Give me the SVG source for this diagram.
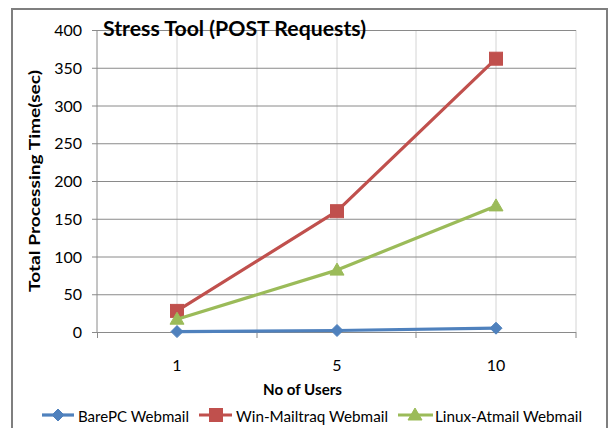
<svg xmlns="http://www.w3.org/2000/svg" width="611" height="428" viewBox="0 0 611 428">
  <style>
    .lbl { font-family: Lato, "Open Sans", "Liberation Sans", sans-serif; font-size: 16px; fill: #000; }
    .bold { font-weight: bold; }
    .hgrid { stroke: #8a8a8a; stroke-width: 1; }
    .vgrid { stroke: #d4d4d4; stroke-width: 1; }
    .axis { stroke: #8a8a8a; stroke-width: 1; fill: none; }
    .blue { stroke: #4f81bd; fill: #4f81bd; }
    .red { stroke: #c0504d; fill: #c0504d; }
    .green { stroke: #9bbb59; fill: #9bbb59; }
    .series { fill: none; stroke-width: 3.2; stroke-linejoin: round; stroke-linecap: round; }
  </style>
  <defs>
    <path id="diamond" d="M0,-6 L6,0 L0,6 L-6,0 Z"/>
    <rect id="square" x="-6.5" y="-6.5" width="13" height="13"/>
    <path id="triangle" d="M0,-7 L7,5 L-7,5 Z"/>
  </defs>

  <rect width="611" height="428" fill="#fff"/>
  <!-- chart frame -->
  <path d="M12,432 V9 H607 V432" fill="none" stroke="#7f7f7f" stroke-width="2"/>

  <!-- vertical gridlines -->
  <g id="vgrid" class="vgrid">
    <line x1="177" y1="30" x2="177" y2="332"/>
    <line x1="257" y1="30" x2="257" y2="332"/>
    <line x1="337" y1="30" x2="337" y2="332"/>
    <line x1="416" y1="30" x2="416" y2="332"/>
    <line x1="496" y1="30" x2="496" y2="332"/>
    <line x1="576" y1="30" x2="576" y2="332"/>
  </g>

  <!-- horizontal gridlines with tick marks -->
  <g id="hgrid" class="hgrid">
    <line x1="92" y1="30.5" x2="576" y2="30.5"/>
    <line x1="92" y1="68.25" x2="576" y2="68.25"/>
    <line x1="92" y1="106" x2="576" y2="106"/>
    <line x1="92" y1="143.75" x2="576" y2="143.75"/>
    <line x1="92" y1="181.5" x2="576" y2="181.5"/>
    <line x1="92" y1="219.25" x2="576" y2="219.25"/>
    <line x1="92" y1="257" x2="576" y2="257"/>
    <line x1="92" y1="294.75" x2="576" y2="294.75"/>
  </g>

  <!-- axes -->
  <g id="axes" class="axis">
    <line x1="97" y1="30" x2="97" y2="332"/>
    <line x1="92" y1="332.5" x2="576" y2="332.5"/>
    <line x1="97.5" y1="332" x2="97.5" y2="338"/>
    <line x1="257" y1="332" x2="257" y2="338"/>
    <line x1="416" y1="332" x2="416" y2="338"/>
    <line x1="576" y1="332" x2="576" y2="338"/>
  </g>

  <!-- title -->
  <text id="title" class="lbl bold" x="103" y="36" style="font-size:21px" textLength="263" lengthAdjust="spacingAndGlyphs">Stress Tool (POST Requests)</text>

  <!-- y axis values -->
  <g id="y-values" class="lbl" text-anchor="end">
    <text x="82" y="36">400</text>
    <text x="82" y="73.8">350</text>
    <text x="82" y="111.5">300</text>
    <text x="82" y="149.3">250</text>
    <text x="82" y="187">200</text>
    <text x="82" y="224.8">150</text>
    <text x="82" y="262.5">100</text>
    <text x="82" y="300.3">50</text>
    <text x="82" y="338">0</text>
  </g>

  <!-- x axis values -->
  <g id="x-values" class="lbl" text-anchor="middle">
    <text x="177" y="370.5">1</text>
    <text x="337" y="370.5">5</text>
    <text x="496" y="370.5">10</text>
  </g>

  <!-- axis titles -->
  <text id="x-title" class="lbl bold" x="302.5" y="394.5" text-anchor="middle" textLength="79" lengthAdjust="spacingAndGlyphs">No of Users</text>
  <text id="y-title" class="lbl bold" transform="translate(40,181) rotate(-90)" text-anchor="middle" textLength="222" lengthAdjust="spacingAndGlyphs">Total Processing Time(sec)</text>

  <!-- data series -->
  <g id="series">
    <g id="barepc">
      <polyline class="series blue" points="177,331.6 337,330.5 496,328.2"/>
      <g class="blue" stroke="none">
        <use href="#diamond" x="177" y="331.6"/>
        <use href="#diamond" x="337" y="330.5"/>
        <use href="#diamond" x="496" y="328.2"/>
      </g>
    </g>
    <g id="win-mailtraq">
      <polyline class="series red" points="177,310.9 337,211.2 496,58.7"/>
      <g class="red" stroke="none">
        <use href="#square" x="177" y="310.9"/>
        <use href="#square" x="337" y="211.2"/>
        <use href="#square" x="496" y="58.7"/>
      </g>
    </g>
    <g id="linux-atmail">
      <polyline class="series green" points="177,319.2 337,270.1 496,205.9"/>
      <g class="green" stroke="none">
        <use href="#triangle" x="177" y="319.2"/>
        <use href="#triangle" x="337" y="270.1"/>
        <use href="#triangle" x="496" y="205.9"/>
      </g>
    </g>
  </g>

  <!-- legend -->
  <g id="legend">
    <g id="legend-barepc">
      <line class="blue" x1="42" y1="415" x2="74" y2="415" stroke-width="3.2"/>
      <use href="#diamond" class="blue" stroke="none" x="58" y="415"/>
      <text class="lbl" x="78" y="422" textLength="111" lengthAdjust="spacingAndGlyphs">BarePC Webmail</text>
    </g>
    <g id="legend-win">
      <line class="red" x1="199" y1="415" x2="232" y2="415" stroke-width="3.2"/>
      <use href="#square" class="red" stroke="none" x="216" y="415"/>
      <text class="lbl" x="236" y="422" textLength="152" lengthAdjust="spacingAndGlyphs">Win-Mailtraq Webmail</text>
    </g>
    <g id="legend-linux">
      <line class="green" x1="398" y1="415" x2="433" y2="415" stroke-width="3.2"/>
      <use href="#triangle" class="green" stroke="none" x="415" y="415"/>
      <text class="lbl" x="435" y="422" textLength="147" lengthAdjust="spacingAndGlyphs">Linux-Atmail Webmail</text>
    </g>
  </g>
</svg>
